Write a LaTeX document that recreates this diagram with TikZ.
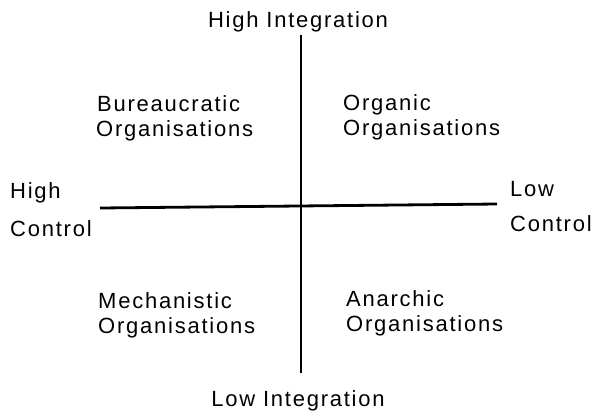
\documentclass[tikz,border=0pt]{standalone}
\usepackage{fontspec}
\setmainfont[LetterSpace=8]{Liberation Sans}
\tikzset{
  lbl/.style={font=\fontsize{22}{26}\selectfont, inner sep=0pt, anchor=base west, align=left},
  ttl/.style={font=\fontsize{22}{26}\selectfont, inner sep=0pt, anchor=base},
  axis/.style={line width=2.8pt, black}
}
\begin{document}
\begin{tikzpicture}[x=1pt,y=-1pt]
\useasboundingbox (0,0) rectangle (597,413);
\node[ttl] (hi) at (298,27) {High Integration};
\node[ttl] (lo) at (298,406) {Low Integration};
\node[lbl] (b1) at (97,111) {Bureaucratic};
\node[lbl] (b2) at (96,136) {Organisations};
\node[lbl] (o1) at (343,110) {Organic};
\node[lbl] (o2) at (343,135) {Organisations};
\node[lbl] (hc1) at (10,198) {High};
\node[lbl] (hc2) at (10,236) {Control};
\node[lbl] (lc1) at (510,196) {Low};
\node[lbl] (lc2) at (510,231) {Control};
\node[lbl] (m1) at (98,308) {Mechanistic};
\node[lbl] (m2) at (98,333) {Organisations};
\node[lbl] (a1) at (346,306) {Anarchic};
\node[lbl] (a2) at (346,331) {Organisations};
\coordinate (vt) at (301,35);
\coordinate (vb) at (301,373);
\coordinate (hl) at (100,208);
\coordinate (hr) at (497,204);
\draw[axis] (vt) -- (vb);
\draw[axis] (hl) -- (hr);
\end{tikzpicture}
\end{document}
